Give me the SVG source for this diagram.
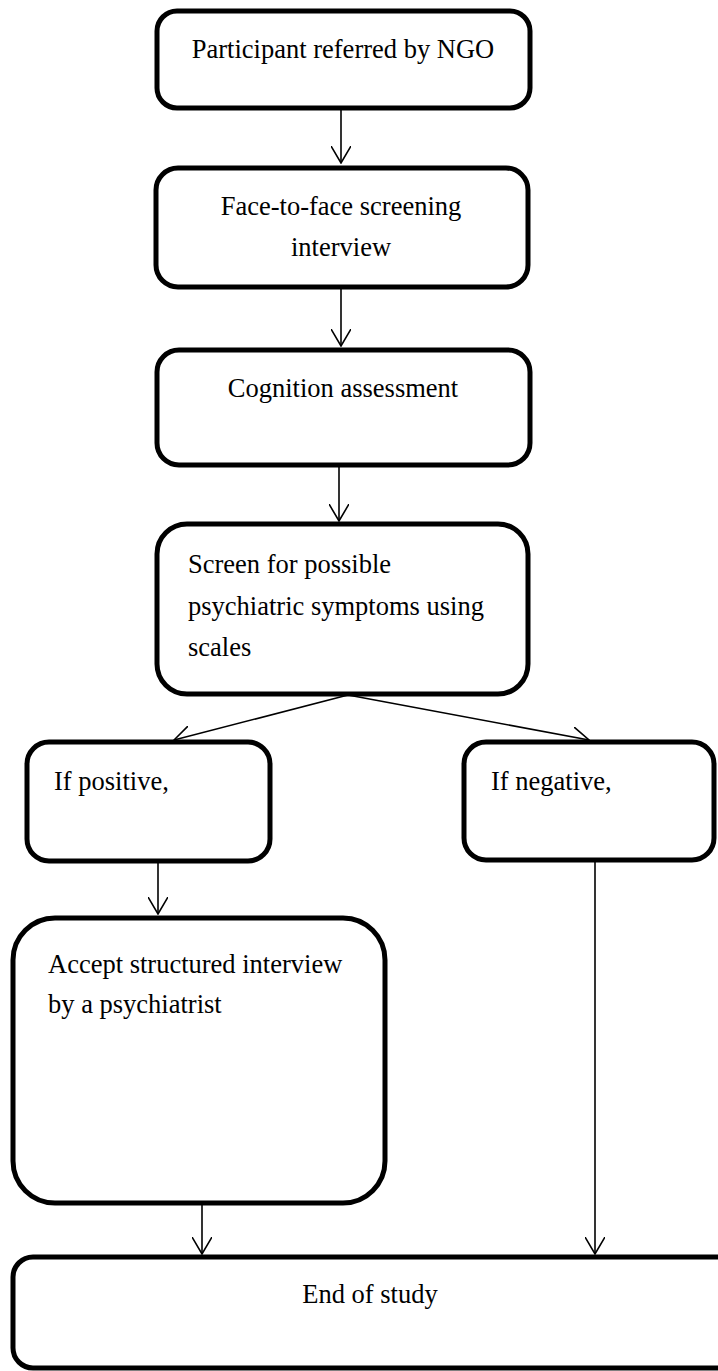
<svg xmlns="http://www.w3.org/2000/svg" width="718" height="1371" viewBox="0 0 718 1371">
<style>
.box{fill:#fff;stroke:#000;stroke-width:5}
.t{font-family:"Liberation Serif","Times New Roman",serif;font-size:26.5px;fill:#000}
.c{text-anchor:middle}
.conn{stroke:#000;stroke-width:1.6;fill:none}
</style>
<defs>
<marker id="arr" viewBox="0 0 18 20" refX="17" refY="10" markerWidth="18" markerHeight="20" markerUnits="userSpaceOnUse" orient="auto">
<path d="M0,0 L17,10 L0,20" fill="none" stroke="#000" stroke-width="1.6"/>
</marker>
</defs>
<rect width="718" height="1371" fill="#fff"/>
<g id="connectors">
<line class="conn" x1="341" y1="108" x2="341" y2="163" marker-end="url(#arr)"/>
<line class="conn" x1="341" y1="287" x2="341" y2="346" marker-end="url(#arr)"/>
<line class="conn" x1="339" y1="465" x2="339" y2="521" marker-end="url(#arr)"/>
<line class="conn" x1="348" y1="695" x2="174" y2="740" marker-end="url(#arr)"/>
<line class="conn" x1="348" y1="695" x2="589" y2="740" marker-end="url(#arr)"/>
<line class="conn" x1="158" y1="862" x2="158" y2="914" marker-end="url(#arr)"/>
<line class="conn" x1="202" y1="1203" x2="202" y2="1254" marker-end="url(#arr)"/>
<line class="conn" x1="595" y1="860" x2="595" y2="1254" marker-end="url(#arr)"/>
</g>
<g id="n1">
<rect class="box" x="157" y="11" width="373" height="97" rx="20"/>
<text class="t c" x="343" y="58">Participant referred by NGO</text>
</g>
<g id="n2">
<rect class="box" x="156" y="168" width="372" height="119" rx="22"/>
<text class="t c" x="341" y="215">Face-to-face screening</text>
<text class="t c" x="341" y="256">interview</text>
</g>
<g id="n3">
<rect class="box" x="157" y="350" width="373" height="115" rx="22"/>
<text class="t c" x="343" y="397">Cognition assessment</text>
</g>
<g id="n4">
<rect class="box" x="157" y="524" width="371" height="170" rx="30"/>
<text class="t" x="188" y="573">Screen for possible</text>
<text class="t" x="188" y="615">psychiatric symptoms using</text>
<text class="t" x="188" y="656">scales</text>
</g>
<g id="n5">
<rect class="box" x="27" y="742" width="243" height="119" rx="22"/>
<text class="t" x="54" y="790">If positive,</text>
</g>
<g id="n6">
<rect class="box" x="464" y="742" width="250" height="118" rx="22"/>
<text class="t" x="491" y="790">If negative,</text>
</g>
<g id="n7">
<rect class="box" x="13" y="918" width="372" height="285" rx="42"/>
<text class="t" x="48" y="973">Accept structured interview</text>
<text class="t" x="48" y="1013">by a psychiatrist</text>
</g>
<g id="n8">
<rect class="box" x="13" y="1257" width="725" height="111" rx="20"/>
<text class="t c" x="370" y="1303">End of study</text>
</g>
</svg>
